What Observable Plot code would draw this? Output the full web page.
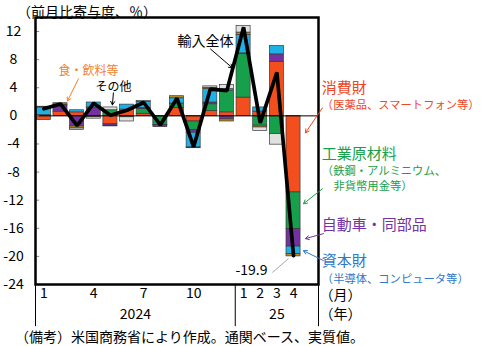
<!DOCTYPE html>
<html><head><meta charset="utf-8">
<script src="https://cdn.jsdelivr.net/npm/d3@7"></script>
<script src="https://cdn.jsdelivr.net/npm/@observablehq/plot@0.6"></script>
<style>
body{margin:0;background:#fff;}
#wrap{position:relative;width:485px;height:346px;font-family:'Noto Sans CJK JP',sans-serif;color:#000;}
#chart{position:absolute;left:0;top:0;}
#title{position:absolute;left:17px;top:2px;font-size:14px;line-height:18px;white-space:nowrap;}
#caption{position:absolute;left:15px;top:327px;font-size:14px;line-height:18px;white-space:nowrap;}
</style></head><body>
<div id="wrap"><div id="chart"></div><div id="title">（前月比寄与度、％）</div><div id="caption">（備考）米国商務省により作成。通関ベース、実質値。</div></div>
<script>
// months Jan 2024 .. Apr 2025 (index 0..15)
const monthTickLabels = ["1","","","4","","","7","","","10","","","1","2","3","4"];
const years = ["2024","25"];
const yearStart = [0, 12];
const yearEnd = [12, 17];
const seriesNames = ["消費財","工業原材料","自動車・同部品","資本財","食・飲料等","その他"];
const seriesColors = ["#F24E1E","#17A04B","#7432A0","#1DB1E6","#B98B1F","#E0E0E0"];
const consumer   = [-0.6, 0.6, 0.5, -0.2, -1.2, 0.9, 0.3, -0.1, 1.1, -0.8, 0.7, 0.5, 2.6, 0.6, 7.7, -10.9];
const industrial = [0.1, 0, 0, 0, 0.8, -0.2, 0.7, -1.2, 0.65, -1.2, 0.95, 3.1, 6.2, -1.4, -2.6, -5.2];
const auto       = [0, 0.9, -1.5, 1.2, -0.2, 0, 0.1, -0.3, 0, -0.4, 0.25, -0.5, 0.1, 0, 1.05, -2.5];
const capital    = [1.1, 0.1, 0.3, 0.7, 0, 0.7, 0.9, 0, 0.75, -2.1, 1.9, 0.2, 2.6, 0.6, 1.2, -1.05];
const food       = [0.1, 0.2, -0.3, 0, -0.1, 0, 0, 0, 0.3, -0.1, 0.2, -0.3, 0.35, -0.25, 0, -0.35];
const other      = [0, 0, -0.2, -0.2, 0.4, -0.6, 0.1, 0, 0, 0, 0.2, 0.6, 0.95, -0.5, -1.5, 0];
const total      = [1.0, 1.7, -1.4, 1.8, 0.1, 0.8, 1.9, -1.3, 2.5, -4.4, 3.8, 3.6, 12.6, -1.0, 6.2, -19.9];
const yTicks = [-24,-20,-16,-12,-8,-4,0,4,8,12];

// annotations (x in month-slot units, y in %)
const labelsStart = [
  {x:17.2, y:3.98, t:"消費財", c:"#F0461E", s:15},
  {x:17.2, y:1.56, t:"（医薬品、スマートフォン等）", c:"#F0461E", s:11.3},
  {x:17.2, y:-5.4, t:"工業原材料", c:"#17A04B", s:15},
  {x:17.2, y:-7.95, t:"（鉄鋼・アルミニウム、", c:"#17A04B", s:11.3},
  {x:17.9, y:-10.1, t:"非貨幣用金等）", c:"#17A04B", s:11.3},
  {x:17.2, y:-15.6, t:"自動車・同部品", c:"#7432A0", s:15},
  {x:17.2, y:-20.7, t:"資本財", c:"#2E78C8", s:15},
  {x:17.2, y:-23.2, t:"（半導体、コンピュータ等）", c:"#2E78C8", s:11.3}
];
const labelsMid = [
  {x:10.21, y:10.65, t:"輸入全体", c:"#000", s:14},
  {x:3.18, y:6.39, t:"食・飲料等", c:"#F07F30", s:12},
  {x:4.68, y:4.12, t:"その他", c:"#000", s:12},
  {x:12.97, y:-22.0, t:"-19.9", c:"#000", s:14}
];
const arrows = [
  {x1:10.51, y1:9.52, x2:11.83, y2:6.82, c:"#000"},
  {x1:2.58, y1:5.26, x2:1.92, y2:2.13, c:"#F07F30"},
  {x1:4.68, y1:3.27, x2:4.62, y2:1.56, c:"#000"},
  {x1:17.24, y1:1.14, x2:16.22, y2:-2.41, c:"#F0461E"},
  {x1:17.24, y1:-10.37, x2:16.1, y2:-12.5, c:"#17A04B"},
  {x1:17.3, y1:-16.76, x2:16.22, y2:-17.47, c:"#7432A0"},
  {x1:17.3, y1:-20.6, x2:16.1, y2:-19.2, c:"#2E78C8"}
];
const leader = [{x1:14.23, y1:-22.3, x2:15.2, y2:-20.3}];

const seriesValues = [consumer, industrial, auto, capital, food, other];
const rows = [];
d3.range(16).forEach(i => seriesValues.forEach((vals, s) => {
  if (vals[i] !== 0) rows.push({i, series: seriesNames[s], v: vals[i]});
}));
const lineRows = d3.range(16).map(i => ({xc: i + 0.5, v: total[i]}));
const tickIdx = d3.range(16).filter(i => monthTickLabels[i] !== "");

const plot = Plot.plot({
  width: 485, height: 346,
  marginLeft: 35, marginRight: 167, marginTop: 17, marginBottom: 62,
  style: {fontFamily: "'Noto Sans CJK JP', sans-serif", background: "transparent", overflow: "visible"},
  x: {domain: [0, 17], axis: null},
  y: {domain: [-24, 14], axis: null},
  color: {domain: seriesNames, range: seriesColors},
  marks: [
    Plot.rectY(rows, {x: "i", y: "v", interval: 1, fill: "series", stroke: "#3a3a3a", strokeWidth: 0.7, insetLeft: 1.3, insetRight: 1.3}),
    Plot.ruleY([0], {stroke: "black", strokeWidth: 1}),
    Plot.line(lineRows, {x: "xc", y: "v", stroke: "black", strokeWidth: 3.7, strokeLinejoin: "miter"}),
    Plot.ruleY(yTicks, {x1: 0, x2: 0.25, stroke: "#888"}),
    Plot.frame({stroke: "black", strokeWidth: 2.5}),
    Plot.axisY({ticks: yTicks, tickSize: 0, tickPadding: 22, textAnchor: "middle", fontSize: 14, tickFormat: d => String(d)}),
    Plot.text(tickIdx, {x: i => i + 0.5, text: i => monthTickLabels[i], frameAnchor: "bottom", dy: 13, fontSize: 14}),
    Plot.text(years, {x: (d, k) => (yearStart[k] + yearEnd[k]) / 2, text: d => d, frameAnchor: "bottom", dy: 34, fontSize: 14}),
    Plot.text(["（月）"], {x: 18.32, text: d => d, frameAnchor: "bottom", dy: 15, fontSize: 14}),
    Plot.text(["（年）"], {x: 18.32, text: d => d, frameAnchor: "bottom", dy: 34, fontSize: 14}),
    Plot.ruleX([0, 12, 17], {y1: -24, y2: -30, stroke: "black", strokeWidth: 1, clip: false}),
    Plot.link(leader, {x1: "x1", y1: "y1", x2: "x2", y2: "y2", stroke: "#aaa", strokeWidth: 1}),
    Plot.arrow(arrows, {x1: "x1", y1: "y1", x2: "x2", y2: "y2", stroke: "c", strokeWidth: 1, headLength: 6}),
    Plot.text(labelsStart, {x: "x", y: "y", text: "t", fill: "c", fontSize: "s", textAnchor: "start"}),
    Plot.text(labelsMid, {x: "x", y: "y", text: "t", fill: "c", fontSize: "s", textAnchor: "middle"})
  ]
});
document.getElementById("chart").appendChild(plot);
</script>
</body></html>
